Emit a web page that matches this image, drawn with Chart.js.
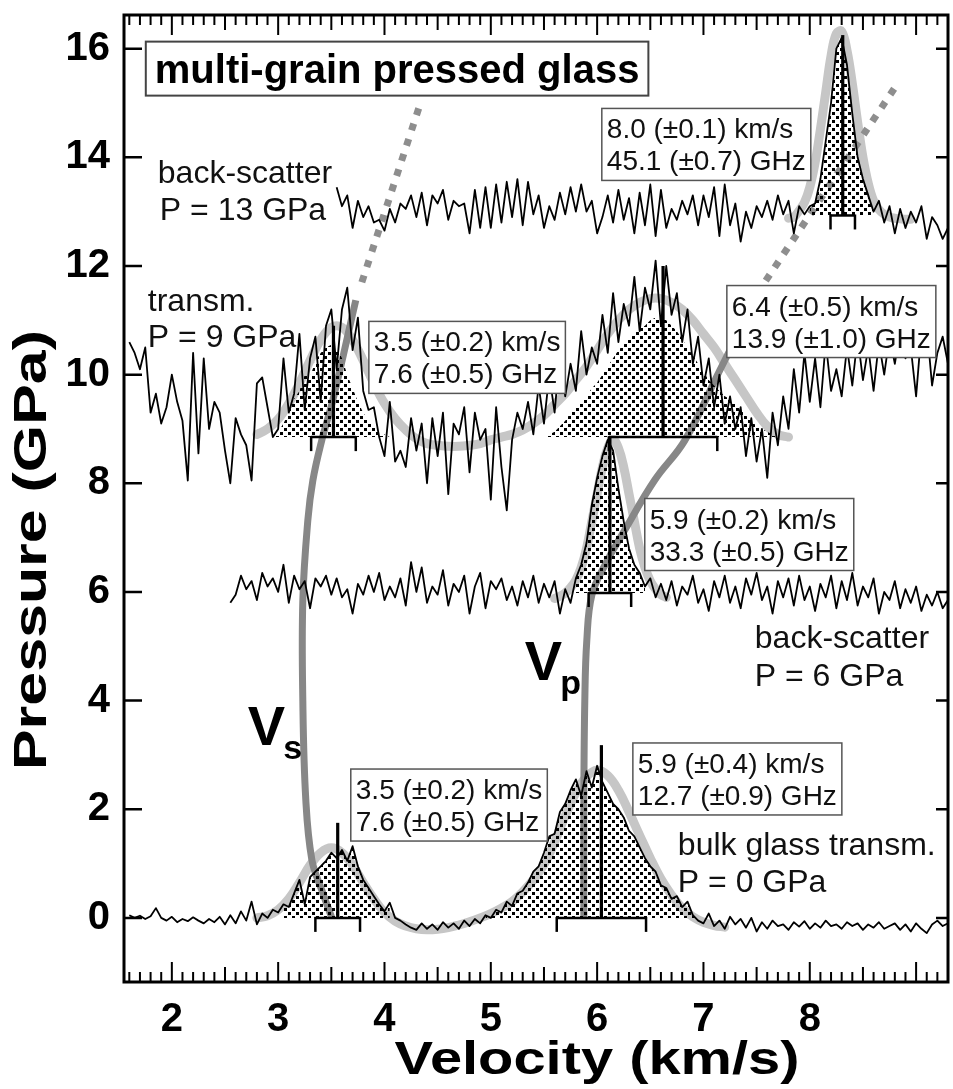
<!DOCTYPE html>
<html>
<head>
<meta charset="utf-8">
<script src="https://cdn.jsdelivr.net/npm/chart.js@4.4.0/dist/chart.umd.min.js"></script>
<style>
  html, body { margin: 0; padding: 0; background: #fff; }
</style>
</head>
<body>
<canvas id="chart" width="953" height="1089"></canvas>
<script>
// axis ranges (km/s, GPa)
const xMin = 1.55, xMax = 9.3;
const yMin = -1.18, yMax = 16.62;

// spectra, one value every 0.05 km/s from the start velocity
const bulkStart = 1.6;
const bulkP0 = [
  0.05, 0.0, 0.04, -0.02, 0.03, 0.18, 0.0, -0.05, 0.02, -0.08,
  -0.02, -0.06, 0.01, -0.05, -0.1, -0.02, -0.08, 0.02, -0.12, 0.05,
  -0.1, 0.12, -0.05, 0.3, -0.12, 0.08, 0.0, 0.15, 0.1, 0.25,
  0.2, 0.45, 0.7, 0.25, 0.75, 0.85, 0.95, 1.05, 1.2, 1.1,
  1.25, 1.05, 1.32, 0.95, 0.7, 0.55, 0.4, 0.25, 0.12, 0.28,
  0.0, -0.05, -0.12, -0.18, -0.22, -0.1, -0.2, -0.12, -0.22, -0.08,
  -0.18, -0.1, -0.2, -0.05, -0.15, -0.02, -0.1, 0.05, 0.0, 0.15,
  0.1, 0.3, 0.22, 0.45, 0.5, 0.65, 0.85, 0.95, 1.2, 1.5,
  1.55, 1.95, 2.1, 2.35, 2.55, 2.25, 2.7, 2.4, 2.8, 2.5,
  2.3, 2.1, 2.0, 1.85, 1.6, 1.5, 1.3, 1.1, 0.95, 0.85,
  0.6, 0.55, 0.35, 0.4, 0.2, 0.3, 0.05, -0.05, -0.1, 0.08,
  -0.15, -0.05, -0.2, 0.02, -0.12, -0.02, -0.18, 0.0, -0.25, -0.08,
  -0.2, -0.05, -0.15, -0.12, -0.22, -0.08, -0.16, -0.06, -0.2, -0.1,
  -0.18, -0.05, -0.15, -0.12, -0.2, -0.08, -0.15, -0.1, -0.22, -0.12,
  -0.18, -0.08, -0.2, -0.15, -0.1, -0.22, -0.12, -0.25, -0.1, -0.2,
  -0.28, -0.12, -0.05, -0.15, -0.1
];

const back6Start = 2.55;
const backP6 = [
  5.8, 5.95, 6.3, 6.05, 6.2, 5.85, 6.35, 6.1, 6.25, 6.0,
  6.5, 5.8, 6.3, 6.05, 6.2, 5.7, 6.25, 6.1, 6.3, 5.95,
  6.25, 5.9, 6.05, 5.6, 6.15, 5.95, 6.3, 6.0, 6.35, 5.85,
  6.1, 5.9, 6.25, 5.75, 6.55, 6.0, 6.45, 5.8, 6.1, 5.95,
  6.4, 5.75, 6.15, 6.0, 6.3, 5.6, 6.1, 6.35, 5.7, 6.2,
  6.05, 6.25, 5.85, 6.1, 5.75, 6.2, 5.9, 6.3, 5.8, 6.15,
  5.9, 6.2, 5.6, 6.05, 5.8, 6.25, 6.5, 6.9, 7.6, 8.1,
  8.5, 8.8, 8.6, 7.9, 7.3, 6.8, 6.5, 6.35, 6.1, 6.25,
  5.9, 6.15, 5.85, 6.2, 5.75, 6.1, 5.95, 6.3, 5.8, 6.05,
  5.65, 6.2, 5.9, 6.3, 5.8, 6.1, 5.7, 6.25, 5.95, 6.35,
  5.85, 6.1, 5.6, 6.2, 5.9, 6.25, 5.75, 6.3, 5.85, 6.1,
  5.65, 6.15, 5.9, 6.3, 5.7, 6.2, 5.85, 6.35, 5.75, 6.1,
  5.9, 6.25, 5.6, 6.0, 5.85, 6.2, 5.7, 6.05, 5.8, 6.1,
  5.65, 5.95, 5.75, 6.0, 5.7, 5.85
];

const trans9Start = 1.6;
const transP9 = [
  10.6, 10.4, 10.1, 10.5, 9.3, 9.65, 9.1, 9.4, 10.0, 9.5,
  9.15, 8.05, 10.4, 8.55, 10.3, 9.0, 9.5, 9.3, 8.6, 8.0,
  9.2, 8.9, 8.7, 8.05, 9.84, 9.95, 9.4, 8.85, 9.0, 10.3,
  9.3, 9.65, 10.75, 9.35, 10.3, 10.7, 9.5, 10.9, 11.2, 10.1,
  11.2, 11.6, 10.45, 11.05, 9.7, 9.35, 9.4, 8.85, 8.5, 9.5,
  8.4, 8.6, 8.3, 9.2, 8.6, 9.1, 8.0, 9.2, 8.5, 9.3,
  7.8, 9.1, 8.9, 9.4, 8.2, 9.3, 8.8, 9.0, 7.7, 9.4,
  8.3, 7.5, 8.8, 9.3, 9.0, 9.5, 8.9, 9.8, 9.1, 10.0,
  9.3, 10.4, 9.6, 10.2, 9.7, 10.8, 10.0, 10.5, 10.2, 11.1,
  10.4, 11.5, 10.6, 11.3, 10.9, 11.8, 10.8, 11.6, 11.2, 12.1,
  10.9, 12.0, 11.1, 11.5, 10.6, 11.2, 10.2, 10.7, 9.8, 10.3,
  9.4, 10.0, 9.1, 9.6, 9.0, 9.4, 8.5, 9.2, 8.4, 9.0,
  8.1, 9.3, 8.7, 9.6, 9.0, 10.1, 9.3, 10.4, 9.5, 10.3,
  9.4, 10.6, 9.7, 10.1, 9.6, 10.5, 9.8, 10.7, 9.9, 10.5,
  9.7, 10.6, 10.0, 10.7, 10.2, 10.8, 10.3, 10.5, 9.6, 10.8,
  10.9, 9.8, 10.4, 10.7, 10.2
];

const back13Start = 3.55;
const backP13 = [
  13.45, 13.1, 13.3, 12.7, 13.2, 12.9, 13.1, 12.8, 12.85, 12.65,
  13.05, 12.8, 13.15, 13.05, 13.3, 12.9, 13.35, 12.75, 13.3, 13.15,
  13.4, 12.85, 13.2, 13.1, 13.15, 12.6, 13.4, 12.7, 13.45, 12.7,
  13.5, 12.8, 13.55, 12.9, 13.6, 12.75, 13.55, 12.95, 13.3, 12.7,
  13.1, 12.85, 13.35, 12.95, 13.45, 13.0, 13.5, 13.0, 13.2, 12.6,
  12.9, 13.3, 12.8, 13.4, 12.85, 13.25, 12.6, 13.35, 12.75, 13.5,
  12.55, 13.4, 12.7, 13.05, 12.85, 13.2, 12.95, 13.3, 12.75, 13.3,
  12.9, 13.45, 12.55, 13.5, 12.75, 13.15, 12.45, 13.0, 12.7, 13.1,
  12.9, 13.2, 12.85, 13.3, 12.95, 13.2, 12.6, 13.1, 12.95, 13.1,
  13.15, 13.6, 14.3, 15.0, 16.0, 16.2, 15.7, 14.8, 14.0, 13.6,
  13.3, 13.0, 13.2, 12.8, 13.1, 12.6, 13.05, 12.7, 13.0, 12.8,
  13.1, 12.5, 12.9, 12.75, 12.5, 12.7
];
const specStep = 0.05;

// fitted peak curves (grey)
const fitBulkStart = 2.8, fitBulkStep = 0.1;
const fitBulk = [
  0.0, 0.04, 0.15, 0.35, 0.65, 0.97, 1.2, 1.29, 1.2, 0.97,
  0.65, 0.35, 0.1, -0.06, -0.15, -0.2, -0.22, -0.21, -0.18, -0.13,
  -0.07, 0.0, 0.08, 0.18, 0.3, 0.48, 0.7, 0.98, 1.4, 1.88,
  2.3, 2.6, 2.72, 2.62, 2.35, 1.95, 1.52, 1.1, 0.72, 0.42,
  0.18, 0.02, -0.08, -0.14, -0.17
];
const fitP9Start = 2.8, fitP9Step = 0.1;
const fitP9 = [
  8.9, 9.0, 9.18, 9.47, 9.84, 10.26, 10.64, 10.87, 10.87, 10.64,
  10.26, 9.84, 9.47, 9.19, 8.98, 8.82, 8.73, 8.7, 8.68, 8.68,
  8.7, 8.73, 8.8, 8.85, 8.9, 8.98, 9.1, 9.25, 9.45, 9.65,
  9.9, 10.15, 10.45, 10.75, 11.0, 11.2, 11.33, 11.4, 11.4, 11.33,
  11.2, 11.0, 10.75, 10.5, 10.2, 9.9, 9.6, 9.3, 9.05, 8.9,
  8.85
];
const fitP6Start = 5.6, fitP6Step = 0.05;
const fitP6 = [
  5.88, 5.92, 5.98, 6.08, 6.22, 6.45, 6.8, 7.3, 7.8, 8.3,
  8.65, 8.8, 8.65, 8.3, 7.8, 7.3, 6.8, 6.45, 6.2, 6.05,
  5.95, 5.9
];
const fitP13Start = 7.8, fitP13Step = 0.05;
const fitP13 = [
  12.88, 12.9, 13.02, 13.17, 13.45, 13.9, 14.52, 15.2, 15.87, 16.28,
  16.32, 15.97, 15.36, 14.65, 14.0, 13.52, 13.2, 13.04, 12.95, 12.9,
  12.88, 12.87, 12.86, 12.86
];

// dotted peak areas of the 9 GPa spectrum
const fillP9sStart = 2.95;
const fillP9s = [
  8.85, 8.95, 9.1, 9.3, 9.55, 9.7, 10.0, 9.95, 10.25, 10.4,
  10.5, 10.55, 10.5, 10.3, 10.0, 9.75, 9.5, 9.3, 9.15, 9.05,
  8.95, 8.9, 8.85
];
const fillP9pStart = 5.5;
const fillP9p = [
  8.85, 8.9, 8.95, 9.05, 9.15, 9.3, 9.4, 9.5, 9.6, 9.75,
  9.85, 10.0, 10.15, 10.3, 10.45, 10.55, 10.65, 10.75, 10.85, 10.9,
  11.0, 11.05, 11.05, 11.0, 10.9, 10.8, 10.65, 10.5, 10.35, 10.2,
  10.05, 9.9, 9.8, 9.7, 9.6, 9.55, 9.45, 9.35, 9.25, 9.15,
  9.05, 9.0, 8.95, 8.9, 8.85
];

// Vs and Vp trend lines (velocity, pressure)
const vsVel = [3.505, 3.41, 3.317, 3.26, 3.232, 3.232, 3.279, 3.326, 3.41, 3.514, 3.73];
const vsPres = [0, 0.51, 1.07, 2.17, 3.99, 5.85, 7.32, 8.05, 8.79, 9.53, 11.37];
const vsDotVel = [3.787, 4.33];
const vsDotPres = [11.7, 14.95];
const vpVel = [5.875, 5.875, 5.884, 5.903, 5.95, 6.072, 6.26, 6.542, 6.825, 7.154, 7.39];
const vpPres = [0, 2.17, 4.0, 5.11, 5.94, 6.49, 7.14, 8.06, 8.79, 10.08, 11.0];
const vpDotVel = [7.586, 8.83];
const vpDotPres = [11.73, 15.37];

// fitted peak positions: centre, error bar ends, base line, top of marker
const peakCenter = [3.56, 6.04, 6.12, 3.52, 6.62, 8.31];
const peakLo =     [3.35, 5.62, 5.92, 3.31, 6.11, 8.195];
const peakHi =     [3.77, 6.46, 6.32, 3.73, 7.13, 8.425];
const peakBase =   [0.0, 0.0, 5.98, 8.85, 8.85, 12.93];
const peakTop =    [1.75, 3.18, 8.85, 10.9, 12.0, 16.25];

// velocity ranges shaded on the measured spectra
const shadeBulk = [[3.05, 4.05], [4.95, 6.95]];
const shadeP6 = [5.8, 6.45];
const shadeP13 = [8.0, 8.6];

const FONT = "'Liberation Sans', Arial, Helvetica, sans-serif";

function pts(x0, dx, ys) {
  return ys.map((y, i) => ({x: Math.round((x0 + i * dx) * 1000) / 1000, y: y}));
}
function zip(xs, ys) {
  return xs.map((x, i) => ({x: x, y: ys[i]}));
}
function between(points, a, b) {
  return points.filter(p => p.x >= a - 1e-6 && p.x <= b + 1e-6);
}

const canvas = document.getElementById('chart');
const ctx0 = canvas.getContext('2d');

function dotPattern() {
  const c = document.createElement('canvas');
  c.width = 8; c.height = 8;
  const g = c.getContext('2d');
  g.fillStyle = '#000';
  g.fillRect(0, 0, 3, 3);
  g.fillRect(4, 4, 3, 3);
  return ctx0.createPattern(c, 'repeat');
}
const dots = dotPattern();

const bulkPts = pts(bulkStart, specStep, bulkP0);
const p6Pts = pts(back6Start, specStep, backP6);
const p9Pts = pts(trans9Start, specStep, transP9);
const p13Pts = pts(back13Start, specStep, backP13);

const datasets = [];
function add(ds) {
  datasets.push(Object.assign({pointRadius: 0, fill: false, tension: 0, borderJoinStyle: 'round'}, ds));
}

// grey fits
const fitStyle = {borderColor: '#c6c6c6', borderWidth: 9, tension: 0.4, borderCapStyle: 'round'};
add(Object.assign({data: pts(fitBulkStart, fitBulkStep, fitBulk)}, fitStyle));
add(Object.assign({data: pts(fitP9Start, fitP9Step, fitP9)}, fitStyle));
add(Object.assign({data: pts(fitP6Start, fitP6Step, fitP6)}, fitStyle));
add(Object.assign({data: pts(fitP13Start, fitP13Step, fitP13)}, fitStyle));

// Vs / Vp trends
const trend = {borderColor: '#878787', borderWidth: 7, tension: 0.4, borderCapStyle: 'butt'};
add(Object.assign({data: zip(vsVel, vsPres)}, trend));
add(Object.assign({data: zip(vpVel, vpPres)}, trend));
add(Object.assign({data: zip(vsDotVel, vsDotPres), borderDash: [7, 9]}, trend, {borderColor: '#8e8e8e'}));
add(Object.assign({data: zip(vpDotVel, vpDotPres), borderDash: [7, 9]}, trend, {borderColor: '#8e8e8e'}));

// dotted areas
const shade = {borderColor: 'rgba(0,0,0,0)', borderWidth: 0, backgroundColor: dots};
add(Object.assign({data: between(bulkPts, shadeBulk[0][0], shadeBulk[0][1]), fill: {value: 0}}, shade));
add(Object.assign({data: between(bulkPts, shadeBulk[1][0], shadeBulk[1][1]), fill: {value: 0}}, shade));
add(Object.assign({data: between(p6Pts, shadeP6[0], shadeP6[1]), fill: {value: peakBase[2]}}, shade));
add(Object.assign({data: pts(fillP9sStart, specStep, fillP9s), fill: {value: peakBase[3]}}, shade));
add(Object.assign({data: pts(fillP9pStart, specStep, fillP9p), fill: {value: peakBase[4]}}, shade));
add(Object.assign({data: between(p13Pts, shadeP13[0], shadeP13[1]), fill: {value: peakBase[5]}}, shade));

// measured spectra
const traceStyle = {borderColor: '#000', borderWidth: 1.8};
[bulkPts, p6Pts, p9Pts, p13Pts].forEach(d => add(Object.assign({data: d}, traceStyle)));

// peak markers: centre line and error bar
peakCenter.forEach((c, i) => {
  add({data: [{x: c, y: peakBase[i]}, {x: c, y: peakTop[i]}], borderColor: '#000', borderWidth: 3.2});
  add({data: [{x: peakLo[i], y: peakBase[i]}, {x: peakHi[i], y: peakBase[i]}], borderColor: '#000', borderWidth: 2.5});
});

datasets.forEach((d, i) => { d.order = datasets.length - i; });

const boxes = [
  {x: 6.044, y: 14.90, lines: ['8.0 (±0.1) km/s', '45.1 (±0.7) GHz']},
  {x: 3.853, y: 10.98, lines: ['3.5 (±0.2) km/s', '7.6 (±0.5) GHz']},
  {x: 7.220, y: 11.64, lines: ['6.4 (±0.5) km/s', '13.9 (±1.0) GHz']},
  {x: 6.448, y: 7.72, lines: ['5.9 (±0.2) km/s', '33.3 (±0.5) GHz']},
  {x: 3.683, y: 2.74, lines: ['3.5 (±0.2) km/s', '7.6 (±0.5) GHz']},
  {x: 6.336, y: 3.22, lines: ['5.9 (±0.4) km/s', '12.7 (±0.9) GHz']}
];
const labels = [
  {x: 1.868, y: 13.52, t: 'back-scatter'},
  {x: 1.887, y: 12.84, t: 'P = 13 GPa'},
  {x: 1.774, y: 11.18, t: 'transm.'},
  {x: 1.774, y: 10.50, t: 'P = 9 GPa'},
  {x: 7.483, y: 4.97, t: 'back-scatter'},
  {x: 7.483, y: 4.27, t: 'P = 6 GPa'},
  {x: 6.759, y: 1.16, t: 'bulk glass transm.'},
  {x: 6.759, y: 0.48, t: 'P = 0 GPa'}
];
const waveLabels = [
  {x: 2.715, y: 3.18, main: 'V', sub: 's'},
  {x: 5.32, y: 4.38, main: 'V', sub: 'p'}
];

const decor = {
  id: 'decor',
  afterDatasetsDraw(chart) {
    const ctx = chart.ctx;
    const a = chart.chartArea;
    const sx = chart.scales.x, sy = chart.scales.y;
    ctx.save();

    // error bar end caps
    ctx.strokeStyle = '#000';
    ctx.lineWidth = 2.5;
    peakCenter.forEach((c, i) => {
      const yb = sy.getPixelForValue(peakBase[i]);
      [peakLo[i], peakHi[i]].forEach(v => {
        const xp = sx.getPixelForValue(v);
        ctx.beginPath(); ctx.moveTo(xp, yb - 1); ctx.lineTo(xp, yb + 14); ctx.stroke();
      });
    });

    // value boxes
    ctx.font = '28px ' + FONT;
    ctx.textBaseline = 'alphabetic';
    boxes.forEach(b => {
      const left = sx.getPixelForValue(b.x), top = sy.getPixelForValue(b.y);
      const w = Math.max(...b.lines.map(l => ctx.measureText(l).width)) + 10;
      ctx.fillStyle = '#fff';
      ctx.fillRect(left, top, w, 72);
      ctx.strokeStyle = '#555';
      ctx.lineWidth = 1.5;
      ctx.strokeRect(left, top, w, 72);
      ctx.fillStyle = '#111';
      b.lines.forEach((l, k) => ctx.fillText(l, left + 5, top + 30 + k * 32));
    });

    // spectrum labels
    ctx.font = '32px ' + FONT;
    ctx.fillStyle = '#111';
    labels.forEach(l => ctx.fillText(l.t, sx.getPixelForValue(l.x), sy.getPixelForValue(l.y)));

    // Vs / Vp
    waveLabels.forEach(w => {
      const xp = sx.getPixelForValue(w.x), yp = sy.getPixelForValue(w.y);
      ctx.font = 'bold 56px ' + FONT;
      ctx.fillStyle = '#000';
      ctx.fillText(w.main, xp, yp);
      const vw = ctx.measureText(w.main).width;
      ctx.font = 'bold 34px ' + FONT;
      ctx.fillText(w.sub, xp + vw - 2, yp + 14);
    });

    // title box
    ctx.font = 'bold 40px ' + FONT;
    const title = 'multi-grain pressed glass';
    const tl = sx.getPixelForValue(1.755), tt = sy.getPixelForValue(16.13);
    const tw = ctx.measureText(title).width + 18;
    ctx.fillStyle = '#fff';
    ctx.fillRect(tl, tt, tw, 54);
    ctx.strokeStyle = '#444';
    ctx.lineWidth = 2;
    ctx.strokeRect(tl, tt, tw, 54);
    ctx.fillStyle = '#000';
    ctx.fillText(title, tl + 9, tt + 41);

    // frame
    ctx.strokeStyle = '#000';
    ctx.lineWidth = 3;
    ctx.strokeRect(a.left, a.top, a.right - a.left, a.bottom - a.top);

    // x ticks, top and bottom, pointing inward
    ctx.lineWidth = 2;
    for (let k = Math.ceil(sx.min * 10); k <= Math.floor(sx.max * 10); k++) {
      const xp = sx.getPixelForValue(k / 10);
      if (xp <= a.left + 1 || xp >= a.right - 1) continue;
      const len = k % 10 === 0 ? 20 : (k % 5 === 0 ? 15 : 10);
      ctx.beginPath();
      ctx.moveTo(xp, a.bottom); ctx.lineTo(xp, a.bottom - len);
      ctx.moveTo(xp, a.top); ctx.lineTo(xp, a.top + len);
      ctx.stroke();
    }
    // y ticks, left and right, pointing inward
    ctx.lineWidth = 2.5;
    sy.ticks.forEach(t => {
      const yp = sy.getPixelForValue(t.value);
      ctx.beginPath();
      ctx.moveTo(a.left, yp); ctx.lineTo(a.left + 18, yp);
      ctx.moveTo(a.right, yp); ctx.lineTo(a.right - 12, yp);
      ctx.stroke();
    });

    // axis titles
    ctx.fillStyle = '#000';
    ctx.font = 'bold 46px ' + FONT;
    ctx.textAlign = 'center';
    let txt = 'Velocity (km/s)';
    let sc = 405 / ctx.measureText(txt).width;
    ctx.save();
    ctx.translate(597, 1074);
    ctx.scale(sc, 1);
    ctx.fillText(txt, 0, 0);
    ctx.restore();

    ctx.font = 'bold 46px ' + FONT;
    txt = 'Pressure (GPa)';
    sc = 440 / ctx.measureText(txt).width;
    ctx.save();
    ctx.translate(46, 550);
    ctx.rotate(-Math.PI / 2);
    ctx.scale(sc, 1);
    ctx.fillText(txt, 0, 0);
    ctx.restore();

    ctx.restore();
  }
};

new Chart(canvas, {
  type: 'line',
  data: {datasets: datasets},
  options: {
    responsive: false,
    animation: false,
    events: [],
    layout: {padding: {top: 15, right: 5, left: 0, bottom: 0}},
    plugins: {legend: {display: false}, tooltip: {enabled: false}},
    scales: {
      x: {
        type: 'linear', min: xMin, max: xMax,
        afterFit: s => { s.height = 107; s.paddingLeft = 0; s.paddingRight = 0; },
        grid: {display: false, drawTicks: false},
        border: {display: false},
        ticks: {
          stepSize: 1, includeBounds: false, autoSkip: false, maxRotation: 0, padding: 14,
          color: '#000', font: {family: FONT, size: 40, weight: 'bold'},
          callback: v => (v >= 2 && v <= 8) ? String(v) : ''
        }
      },
      y: {
        type: 'linear', min: yMin, max: yMax,
        afterFit: s => { s.width = 124; s.paddingTop = 0; s.paddingBottom = 0; },
        grid: {display: false, drawTicks: false},
        border: {display: false},
        ticks: {
          stepSize: 2, includeBounds: false, autoSkip: false, padding: 14,
          color: '#000', font: {family: FONT, size: 40, weight: 'bold'}
        }
      }
    }
  },
  plugins: [decor]
});
</script>
</body>
</html>
